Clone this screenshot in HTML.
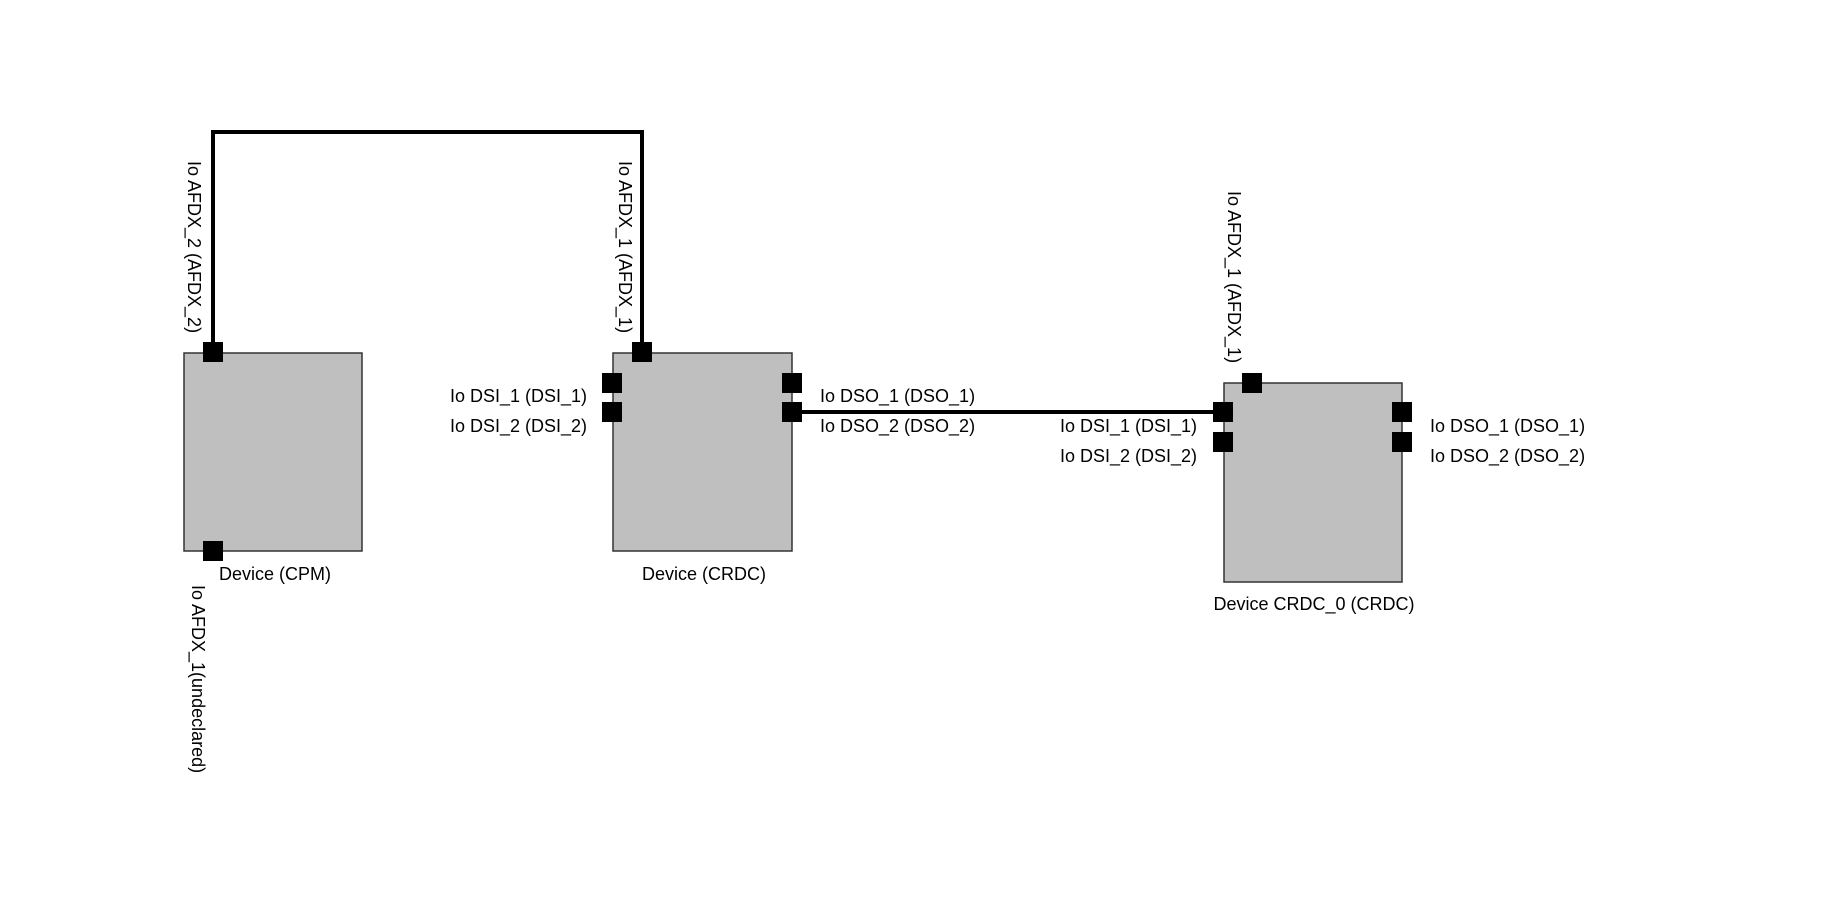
<!DOCTYPE html>
<html><head><meta charset="utf-8"><style>
html,body{margin:0;padding:0;background:#fff;}
svg{display:block;}
text{font-family:"Liberation Sans",sans-serif;font-size:18px;fill:#000;}
</style></head><body>
<svg width="1835" height="918" xmlns="http://www.w3.org/2000/svg">
<rect width="1835" height="918" fill="#fff"/>
<polyline points="213,352 213,132 642,132 642,352" fill="none" stroke="#000" stroke-width="4"/>
<line x1="792" y1="412" x2="1223" y2="412" stroke="#000" stroke-width="4"/>
<rect x="184" y="353" width="178" height="198" fill="#bfbfbf" stroke="#333" stroke-width="1.5"/>
<rect x="613" y="353" width="179" height="198" fill="#bfbfbf" stroke="#333" stroke-width="1.5"/>
<rect x="1224" y="383" width="178" height="199" fill="#bfbfbf" stroke="#333" stroke-width="1.5"/>
<g fill="#000">
<rect x="203" y="342" width="20" height="20"/>
<rect x="203" y="541" width="20" height="20"/>
<rect x="632" y="342" width="20" height="20"/>
<rect x="602" y="373" width="20" height="20"/>
<rect x="602" y="402" width="20" height="20"/>
<rect x="782" y="373" width="20" height="20"/>
<rect x="782" y="402" width="20" height="20"/>
<rect x="1242" y="373" width="20" height="20"/>
<rect x="1213" y="402" width="20" height="20"/>
<rect x="1213" y="432" width="20" height="20"/>
<rect x="1392" y="402" width="20" height="20"/>
<rect x="1392" y="432" width="20" height="20"/>
</g>
<text x="587" y="402" text-anchor="end">Io DSI_1 (DSI_1)</text>
<text x="587" y="432" text-anchor="end">Io DSI_2 (DSI_2)</text>
<text x="820" y="402">Io DSO_1 (DSO_1)</text>
<text x="820" y="432">Io DSO_2 (DSO_2)</text>
<text x="1197" y="432" text-anchor="end">Io DSI_1 (DSI_1)</text>
<text x="1197" y="462" text-anchor="end">Io DSI_2 (DSI_2)</text>
<text x="1430" y="432">Io DSO_1 (DSO_1)</text>
<text x="1430" y="462">Io DSO_2 (DSO_2)</text>
<text x="275" y="580" text-anchor="middle">Device (CPM)</text>
<text x="704" y="580" text-anchor="middle">Device (CRDC)</text>
<text x="1314" y="610" text-anchor="middle">Device CRDC_0 (CRDC)</text>
<text transform="translate(188,161) rotate(90)">Io AFDX_2 (AFDX_2)</text>
<text transform="translate(619,161) rotate(90)">Io AFDX_1 (AFDX_1)</text>
<text transform="translate(1228,191) rotate(90)">Io AFDX_1 (AFDX_1)</text>
<text transform="translate(192,585) rotate(90)">Io AFDX_1(undeclared)</text>
</svg>
</body></html>
